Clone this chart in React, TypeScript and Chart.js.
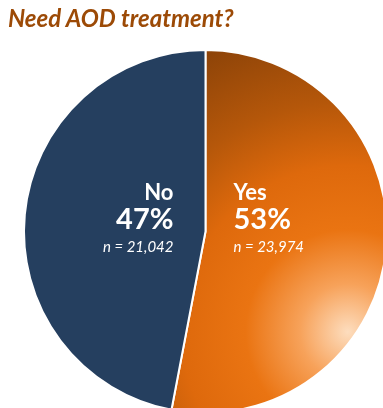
import React, { useEffect, useRef } from "react";
import { Chart, registerables } from "chart.js";

Chart.register(...registerables);

const categories = ["Yes", "No"];
const percents = [53, 47];
const counts = ["23,974", "21,042"];
const title = "Need AOD treatment?";

const NAVY = "#253F5F";

const labelPlugin = {
  id: "sliceLabels",
  afterDatasetsDraw(chart: any) {
    const meta = chart.getDatasetMeta(0);
    const ctx = chart.ctx;
    const arc = meta.data[0];
    const cx = arc.x;
    const cy = arc.y;
    ctx.save();
    ctx.fillStyle = "#ffffff";
    ctx.textBaseline = "alphabetic";
    categories.forEach((cat, i) => {
      const right = i === 1;
      const x = right ? cx - 32 : cx + 28;
      ctx.textAlign = right ? "right" : "left";
      ctx.font = "bold 22px Lato";
      ctx.fillText(cat, x, cy - 32);
      ctx.font = "bold 29px Lato";
      ctx.fillText(percents[i] + "%", x, cy - 3);
      ctx.font = "italic 15px Lato";
      ctx.fillText("n = " + counts[i], x, cy + 20);
    });
    ctx.restore();
  },
};

export default function App() {
  const ref = useRef<HTMLCanvasElement>(null);
  useEffect(() => {
    if (!ref.current) return;
    const chart = new Chart(ref.current, {
      type: "pie",
      data: {
        labels: categories,
        datasets: [
          {
            data: percents,
            borderColor: "#ffffff",
            borderWidth: 2,
            backgroundColor: (c: any) => {
              if (c.dataIndex === 1) return NAVY;
              const ch = c.chart;
              const area = ch.chartArea;
              if (!area) return "#E36C0A";
              const cx = (area.left + area.right) / 2;
              const cy = (area.top + area.bottom) / 2;
              const r = Math.min(area.right - area.left, area.bottom - area.top) / 2;
              const gx = cx + r * 0.78;
              const gy = cy + r * 0.55;
              const g = ch.ctx.createRadialGradient(gx, gy, 0, gx, gy, r * 1.75);
              g.addColorStop(0, "#FDDDBE");
              g.addColorStop(0.15, "#F7A25A");
              g.addColorStop(0.32, "#EA7412");
              g.addColorStop(0.52, "#DE690C");
              g.addColorStop(0.72, "#B5570A");
              g.addColorStop(1, "#8A4208");
              return g;
            },
          },
        ],
      },
      options: {
        animation: false,
        responsive: false,
        layout: { padding: { left: 23, top: 49, right: 0, bottom: 0 } },
        plugins: {
          legend: { display: false },
          tooltip: { enabled: false },
          title: { display: false },
        },
      },
      plugins: [labelPlugin],
    });
    return () => chart.destroy();
  }, []);
  return (
    <div style={{ position: "absolute", left: 0, top: 0, width: 383, height: 408, overflow: "hidden" }}>
      <canvas ref={ref} width={388} height={414} style={{ position: "absolute", left: 0, top: 0 }} />
      <div
        style={{
          position: "absolute",
          left: 8,
          top: 3,
          fontFamily: "Lato",
          fontWeight: 700,
          fontStyle: "italic",
          fontSize: 24,
          color: "#9C4A06",
          whiteSpace: "nowrap",
        }}
      >
        {title}
      </div>
    </div>
  );
}
